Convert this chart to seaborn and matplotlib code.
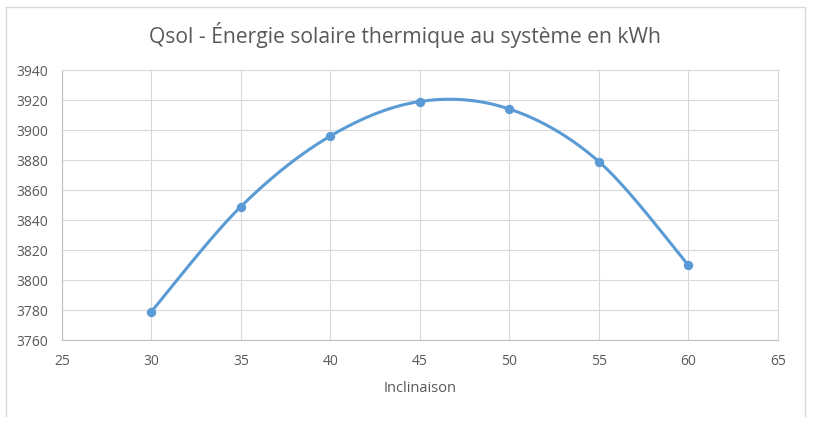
import numpy as np
import pandas as pd
import matplotlib
matplotlib.use("Agg")
import matplotlib.pyplot as plt
from matplotlib.lines import Line2D
import seaborn as sns

# Data
inclinaison = [30, 35, 40, 45, 50, 55, 60]
qsol = [3779, 3849, 3896, 3919, 3914, 3879, 3810]
title = "Qsol - Énergie solaire thermique au système en kWh"
xlabel = "Inclinaison"
xticks = [25, 30, 35, 40, 45, 50, 55, 60, 65]
yticks = [3760, 3780, 3800, 3820, 3840, 3860, 3880, 3900, 3920, 3940]

sns.set_theme(style="white")
plt.rcParams['font.family'] = ['Open Sans', 'DejaVu Sans']

COLOR = "#5B9BD5"
TXT = "#595959"
GRID = "#D9D9D9"

def excel_smooth(x, y, n=40):
    x = np.asarray(x, float); y = np.asarray(y, float)
    P = np.column_stack([x, y])
    Pe = np.vstack([P[0], P, P[-1]])
    out = []
    for i in range(len(P) - 1):
        p0, p1, p2, p3 = Pe[i], Pe[i + 1], Pe[i + 2], Pe[i + 3]
        c1 = p1 + (p2 - p0) / 6.0
        c2 = p2 - (p3 - p1) / 6.0
        t = np.linspace(0, 1, n)[:, None]
        seg = ((1 - t) ** 3) * p1 + 3 * ((1 - t) ** 2) * t * c1 + 3 * (1 - t) * t ** 2 * c2 + t ** 3 * p2
        if i > 0:
            seg = seg[1:]
        out.append(seg)
    return np.vstack(out)

curve = excel_smooth(inclinaison, qsol)
df_curve = pd.DataFrame({"x": curve[:, 0], "y": curve[:, 1]})
df_pts = pd.DataFrame({"x": inclinaison, "y": qsol})

fig = plt.figure(figsize=(8.14, 4.33), dpi=100)
# chart area frame (bottom edge cut off in the reference)
L, R, T, B = 5.5 / 814, 804.5 / 814, 1 - 6.5 / 433, 1 - 416 / 433
for xs, ys in [([L, L], [B, T]), ([L, R], [T, T]), ([R, R], [T, B])]:
    fig.lines.append(Line2D(xs, ys, transform=fig.transFigure, color=GRID, linewidth=1.0))

ax = fig.add_axes([62 / 814, 1 - 340 / 433, (777.7 - 62) / 814, (340 - 70) / 433])

sns.lineplot(data=df_curve, x="x", y="y", sort=False, color=COLOR, linewidth=2.2,
             ax=ax, zorder=3)
sns.scatterplot(data=df_pts, x="x", y="y", color=COLOR, s=46, edgecolor=COLOR,
                linewidth=0, ax=ax, zorder=4)

ax.set_xlim(25, 65)
ax.set_ylim(3760, 3940)
ax.set_xticks(xticks)
ax.set_yticks(yticks)
ax.set_xticklabels([str(v) for v in xticks])
ax.set_yticklabels([str(v) for v in yticks])
ax.grid(True, color=GRID, linewidth=0.8)
ax.set_axisbelow(True)
ax.tick_params(axis="both", length=0, labelsize=10, labelcolor=TXT, pad=10)
for s in ["top", "right"]:
    ax.spines[s].set_color(GRID)
    ax.spines[s].set_linewidth(0.8)
for s in ["left", "bottom"]:
    ax.spines[s].set_color("#BFBFBF")
    ax.spines[s].set_linewidth(0.8)

ax.set_xlabel(xlabel, fontsize=10.5, color=TXT, labelpad=9)
ax.set_ylabel("")
fig.text(405 / 814, 1 - 35 / 433, title, ha="center", va="center",
         fontsize=15.2, color=TXT)

fig.savefig("out.png", dpi=100, facecolor="white")
